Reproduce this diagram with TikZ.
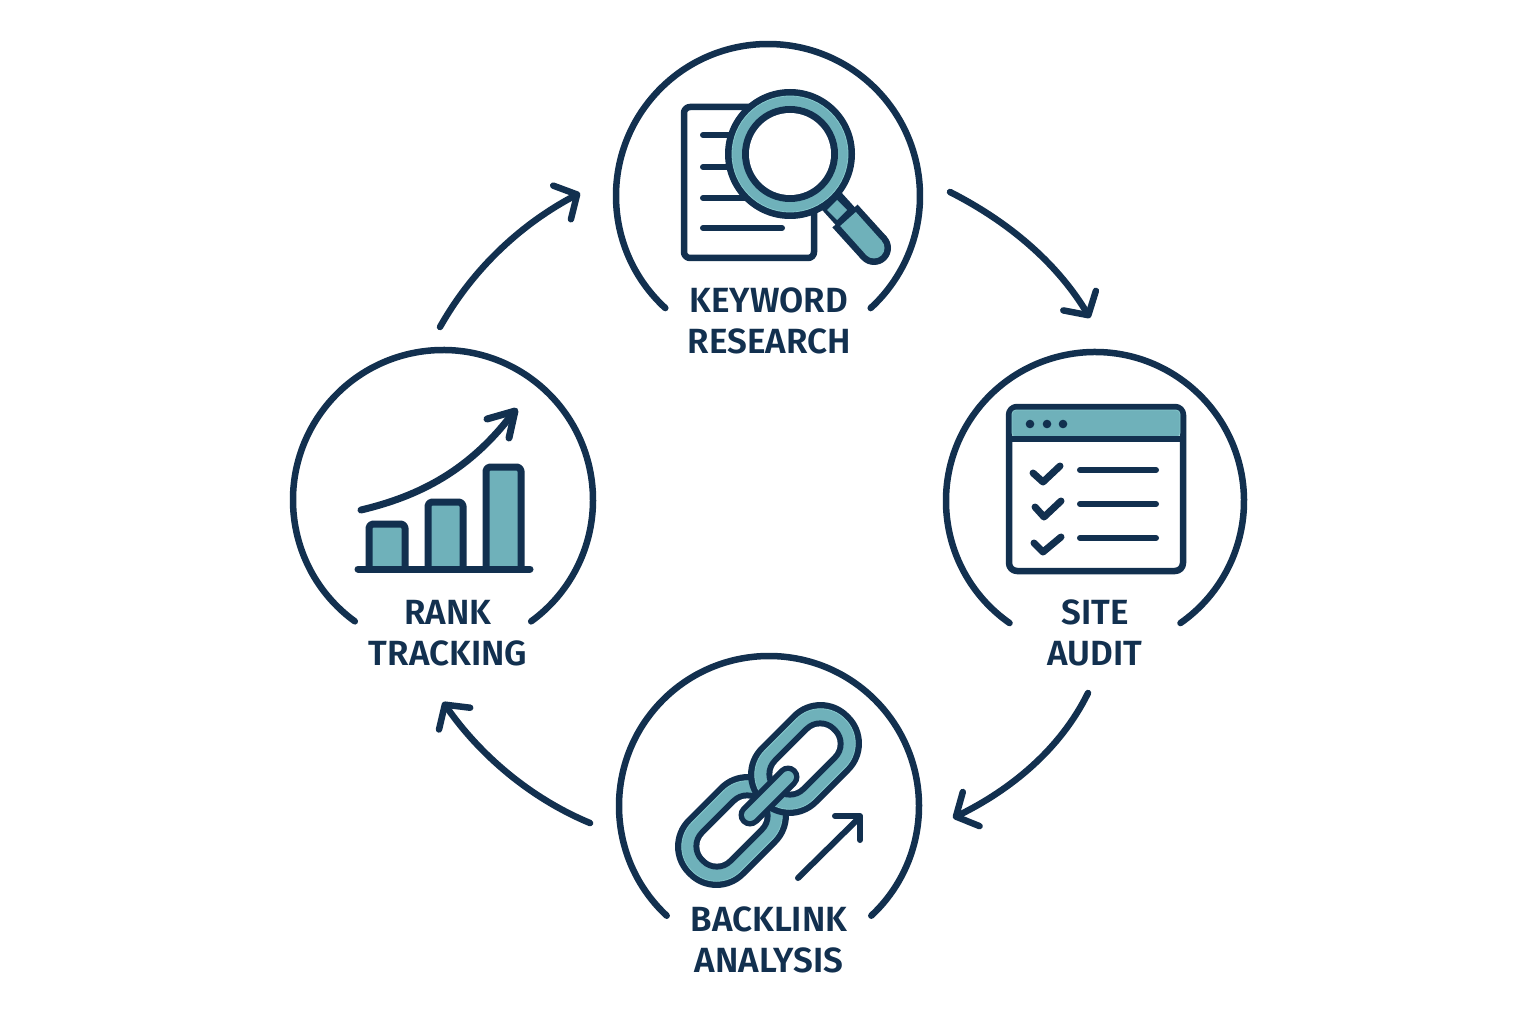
\documentclass[tikz,border=0pt]{standalone}
\usepackage{fontspec}
\setmainfont{Fira Sans}
\newfontfamily\labfont{Fira Sans SemiBold}
\usetikzlibrary{arrows.meta,calc}
\definecolor{navy}{HTML}{12304F}
\definecolor{tealf}{HTML}{6FB1BA}
\definecolor{tedge}{HTML}{86C8CC}
\tikzset{
  hub/.style={inner sep=0pt,minimum size=0pt},
  ring/.style={draw=navy,line width=6.5pt,line cap=round},
  flow/.style={draw=navy,line width=6.5pt,line cap=round,
    -{Straight Barb[length=17pt,width=38pt,line cap=round,line join=round]}},
  ink/.style={draw=navy,line width=7pt,line cap=round,line join=round},
  thinink/.style={draw=navy,line width=6pt,line cap=round,line join=round},
  tealbox/.style={fill=tealf,draw=tedge,line width=.8pt},
  lab/.style={align=center,text=navy,font=\labfont\fontsize{35}{41}\selectfont,inner sep=0pt},
  pics/chainlink/.style={code={
    \fill[navy,rounded corners=40pt] (-63,-41) rectangle (63,41);
    \fill[tealf,draw=tedge,line width=.8pt,rounded corners=34pt] (-56.5,-34.5) rectangle (56.5,34.5);
    \fill[navy,rounded corners=22pt] (-44.5,-23) rectangle (44.5,23);
    \fill[white,rounded corners=16pt] (-38.5,-17) rectangle (38.5,17);
  }},
}
\begin{document}
\begin{tikzpicture}[x=1pt,y=-1pt]
\useasboundingbox (0,0) rectangle (1536,1024);
\fill[white] (0,0) rectangle (1536,1024);
% step centres
\node[hub] (kw) at (768,196) {};
\node[hub] (sa) at (1095,501) {};
\node[hub] (bl) at (769,806) {};
\node[hub] (rt) at (443,500) {};
% open rings
\draw[ring] ([shift={(132.5:152)}]kw.center) arc[start angle=132.5,end angle=407.5,radius=152];
\draw[ring] ([shift={(125:149)}]sa.center) arc[start angle=125,end angle=415,radius=149];
\draw[ring] ([shift={(133:150)}]bl.center) arc[start angle=133,end angle=407,radius=150];
\draw[ring] ([shift={(126:150)}]rt.center) arc[start angle=126,end angle=414,radius=150];
% labels
\node[lab] (kwl) at (769,321) {KEYWORD\\RESEARCH};
\node[lab] (sal) at (1095,633) {SITE\\AUDIT};
\node[lab] (bll) at (769,940) {BACKLINK\\ANALYSIS};
\node[lab] (rtl) at (448,633) {RANK\\TRACKING};
% cycle arrows
\draw[flow] ([shift={(182,-4)}]kw.center) .. controls ([shift={(247,29)}]kw.center) and ([shift={(292,72)}]kw.center) .. ([shift={(-5,-183)}]sa.center);
\draw[flow] ([shift={(-7,192)}]sa.center) .. controls ([shift={(-35,249)}]sa.center) and ([shift={(-85,289)}]sa.center) .. ([shift={(184,12)}]bl.center);
\draw[flow] ([shift={(-179,17)}]bl.center) .. controls ([shift={(-239,-8)}]bl.center) and ([shift={(-289,-51)}]bl.center) .. ([shift={(0,202)}]rt.center);
\draw[flow] ([shift={(-3,-173)}]rt.center) .. controls ([shift={(32,-235)}]rt.center) and ([shift={(82,-278)}]rt.center) .. ([shift={(-188,-3)}]kw.center);
% --- keyword icon: document + magnifier
\draw[ink,line width=6.5pt,fill=white,rounded corners=6pt] (684,107) rectangle (814,258);
\draw[thinink] (703,135) -- (760,135);
\draw[thinink] (703,167) -- (760,167);
\draw[thinink] (703,198) -- (760,198);
\draw[thinink] (703,228) -- (782,228);
\draw[navy,line width=26pt] (818,186) -- (846,217);
\fill[tealf] (837,200) -- (847,210) -- (837,220) -- (827,210) -- cycle;
\draw[navy,line width=34pt] (845,216) -- (874,248);
\fill[navy] (874,248) circle[radius=17];
\draw[tealf,line width=21pt] (848,219) -- (874,248);
\fill[tealf] (874,248) circle[radius=10.5];
\fill[navy] (790,154) circle[radius=65];
\fill[tealbox] (790,154) circle[radius=58];
\fill[navy] (790,154) circle[radius=48];
\fill[white] (790,154) circle[radius=41];
% --- site audit icon: browser window
\draw[ink,line width=6.5pt,fill=white,rounded corners=8pt] (1009,407) rectangle (1183,571);
\fill[tealbox,rounded corners=4pt] (1012,410) -- (1180,410) -- (1180,437) -- (1012,437) -- cycle;
\draw[navy,line width=6pt] (1009,439) -- (1183,439);
\fill[navy] (1030,424) circle[radius=4.3];
\fill[navy] (1047,424) circle[radius=4.3];
\fill[navy] (1063,424) circle[radius=4.3];
\draw[ink] (1033,473) -- (1043,482) -- (1060,466);
\draw[ink] (1035,507) -- (1044,517) -- (1061,501);
\draw[ink] (1034,543) -- (1043,552) -- (1061,537);
\draw[thinink] (1080,470) -- (1156,470);
\draw[thinink] (1080,504) -- (1156,504);
\draw[thinink] (1080,538) -- (1156,538);
% --- backlink icon: chain
\pic[transform shape,rotate=45] at (732,831) {chainlink};
\pic[transform shape,rotate=45] at (805,759) {chainlink};
\draw[navy,line width=23pt,line cap=round] (750,815) -- (788,777);
\draw[tealf,line width=12pt,line cap=round] (750,815) -- (788,777);
\draw[thinink] (798,878) -- (860,817);
\draw[thinink] (835,816) -- (860,816) -- (860,840);
% --- rank tracking icon: bars and rising arrow
\draw[ink,fill=tealf,rounded corners=4pt] (369,569) -- (369,524) -- (405,524) -- (405,569);
\draw[ink,fill=tealf,rounded corners=4pt] (428,569) -- (428,502) -- (463,502) -- (463,569);
\draw[ink,fill=tealf,rounded corners=4pt] (486,569) -- (486,467) -- (521,467) -- (521,569);
\draw[ink] (358,569) -- (530,569);
\draw[ink] (361,510) .. controls (420,496) and (470,470) .. (513,413);
\draw[ink] (487,419) -- (515,411) -- (509,438);
\end{tikzpicture}
\end{document}
